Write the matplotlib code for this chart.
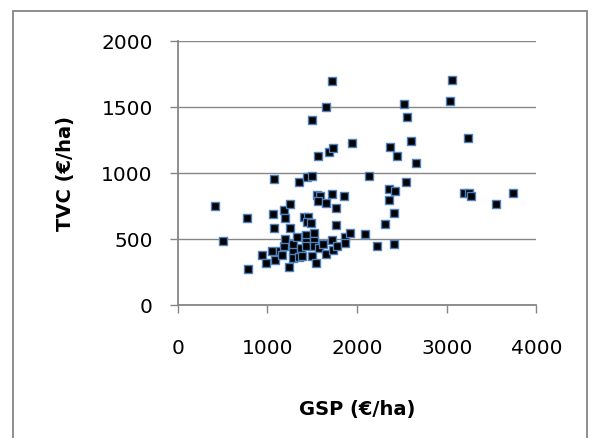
import matplotlib.pyplot as plt
from matplotlib.patches import Rectangle

# GSP (x) and TVC (y) values, in €/ha
gsp = [415, 508, 775, 787, 940, 990, 1057, 1060, 1075, 1074,
       1088, 1140, 1160, 1182, 1200, 1185, 1202, 1244, 1253, 1253,
       1287, 1288, 1289, 1330, 1356, 1356, 1371, 1389, 1412, 1453,
       1445, 1485, 1430, 1430, 1430, 1445, 1501, 1501, 1501, 1516,
       1516, 1516, 1544, 1550, 1560, 1588, 1567, 1572, 1625, 1655,
       1655, 1657, 1687, 1720, 1717, 1726, 1735, 1735, 1761, 1770,
       1773, 1857, 1870, 1870, 1920, 1943, 2087, 2136, 2225, 2308,
       2356, 2359, 2370, 2408, 2415, 2419, 2445, 2526, 2545, 2560,
       2598, 2657, 3039, 3061, 3195, 3244, 3240, 3273, 3552, 3741]
tvc = [748, 482, 659, 270, 378, 319, 410, 688, 585, 952,
       342, 410, 380, 721, 659, 445, 500, 291, 766, 582,
       407, 354, 462, 513, 930, 364, 432, 374, 668, 668,
       625, 620, 532, 475, 447, 968, 980, 1399, 372, 546,
       487, 445, 318, 835, 1127, 825, 785, 434, 465, 775,
       390, 1500, 1157, 1695, 841, 495, 1192, 417, 735, 607,
       446, 827, 513, 469, 544, 1230, 540, 978, 445, 611,
       798, 879, 1195, 697, 462, 866, 1131, 1520, 930, 1424,
       1240, 1076, 1543, 1707, 846, 846, 1263, 824, 765, 846]

x_ticks = [0, 1000, 2000, 3000, 4000]
y_ticks = [0, 500, 1000, 1500, 2000]

grey = '#868686'

fig = plt.figure(figsize=(5.96, 4.39), dpi=100)
ax = fig.add_axes([0.2982, 0.3030, 0.6017, 0.6014])

ax.scatter(gsp, tvc, marker='s', s=34, c='black', edgecolors='#4F81BD',
           linewidths=1.0, zorder=3, clip_on=False)

ax.set_xlim(0, 4000)
ax.set_ylim(0, 2000)
ax.set_xticks(x_ticks)
ax.set_yticks(y_ticks)
ax.yaxis.grid(True, color=grey, linewidth=1.0)
ax.set_axisbelow(True)

for side in ['top', 'right']:
    ax.spines[side].set_visible(False)
for side in ['left', 'bottom']:
    ax.spines[side].set_color(grey)
    ax.spines[side].set_linewidth(1.3)

ax.tick_params(axis='both', colors=grey, length=6, width=1.0,
               labelsize=14.5, labelcolor='black')
ax.tick_params(axis='y', pad=12)
ax.tick_params(axis='x', pad=18)

ax.set_xlabel('GSP (€/ha)', fontsize=14, fontweight='bold', labelpad=30)
ax.set_ylabel('TVC (€/ha)', fontsize=14, fontweight='bold', labelpad=19)

# outer chart border, running off the bottom of the image
fig.patches.append(Rectangle((0.0218, -0.2), 0.963, 1.1727, transform=fig.transFigure,
                             fill=False, edgecolor=grey, linewidth=1.3))

fig.savefig('out.png', dpi=100)
